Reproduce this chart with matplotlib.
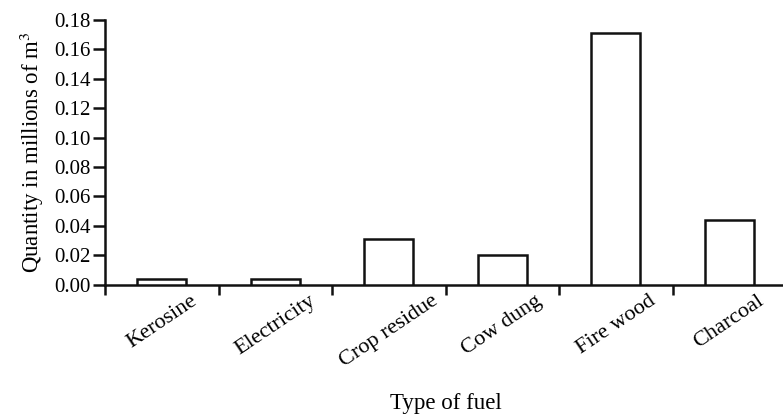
import matplotlib
matplotlib.use("Agg")
import matplotlib.pyplot as plt
import numpy as np

categories = ["Kerosine", "Electricity", "Crop residue", "Cow dung", "Fire wood", "Charcoal"]
values = [0.0035, 0.0035, 0.031, 0.020, 0.171, 0.044]
yticks = [0.00, 0.02, 0.04, 0.06, 0.08, 0.10, 0.12, 0.14, 0.16, 0.18]

plt.rcParams['font.family'] = ['Liberation Serif', 'DejaVu Serif']
plt.rcParams['mathtext.fontset'] = 'stix'

W, H = 783, 415
fig = plt.figure(figsize=(W/100, H/100), dpi=100)
left, right, bottom, top = 105, 786, 284.5, 20
ax = fig.add_axes([left/W, 1-bottom/H, (right-left)/W, (bottom-top)/H])

x = np.arange(len(categories))
ax.bar(x, values, width=0.43, facecolor='white', edgecolor='#111111', linewidth=1.8, zorder=3)

ax.set_xlim(-0.5, len(categories)-0.5)
ax.set_ylim(0, 0.18)
ax.set_yticks(yticks)
ax.set_yticklabels([f"{v:.2f}" for v in yticks], fontsize=15)
ax.set_xticks(x)
ax.set_xticklabels(categories, rotation=34, ha='center', fontsize=16)
ax.set_xticks(np.arange(len(categories)+1)-0.5, minor=True)
ax.tick_params(axis='x', which='major', length=0, pad=5)
ax.tick_params(axis='x', which='minor', length=7, width=1.8, direction='out', color='#111111')
ax.tick_params(axis='y', length=9, width=1.8, direction='out', color='#111111', pad=1)

for s in ['top', 'right']:
    ax.spines[s].set_visible(False)
for s in ['left', 'bottom']:
    ax.spines[s].set_linewidth(1.8)
    ax.spines[s].set_color('#111111')

ax.set_ylabel("Quantity in millions of m$^{3}$", fontsize=16.5, labelpad=6)
ax.set_xlabel("Type of fuel", fontsize=16.5, labelpad=16)

fig.savefig("out.png", dpi=100)
